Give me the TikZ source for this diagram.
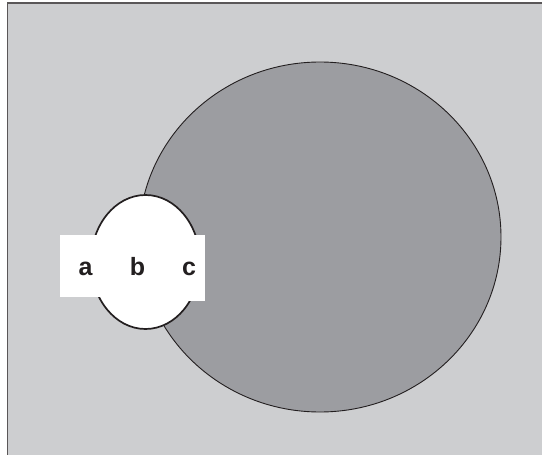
\documentclass[tikz,border=0pt]{standalone}
\usepackage{fontspec}
\usetikzlibrary{shapes.geometric}
\setmainfont{Liberation Sans}
\definecolor{bgray}{HTML}{CDCED0}
\definecolor{cgray}{HTML}{9C9DA1}
\definecolor{edge}{HTML}{231F20}
\tikzset{lbl/.style={font=\bfseries\fontsize{25}{25}\selectfont, text=edge, inner sep=0pt, anchor=base}}
\begin{document}
\begin{tikzpicture}[x=1pt,y=-1pt]
\useasboundingbox (0,0) rectangle (542,455);
\fill[bgray] (7,2.5) rectangle (542,455);
\draw[edge!75, line width=1.4pt] (7.3,455) -- (7.3,2.8) -- (542,2.8);
\node[ellipse, draw=edge, line width=0.9pt, fill=cgray, minimum width=362pt, minimum height=350pt, inner sep=0pt] (big) at (320,237) {};
\node[ellipse, draw=edge, line width=1.7pt, fill=white, minimum width=109pt, minimum height=134pt, inner sep=0pt] (small) at (145.5,262) {};
\fill[white] (60,235) rectangle (146,297);
\fill[white] (146,235) rectangle (205,301);
\node[lbl] (a) at (85.5,275.5) {a};
\node[lbl] (b) at (137.5,275.5) {b};
\node[lbl] (c) at (189,275.5) {c};
\end{tikzpicture}
\end{document}
